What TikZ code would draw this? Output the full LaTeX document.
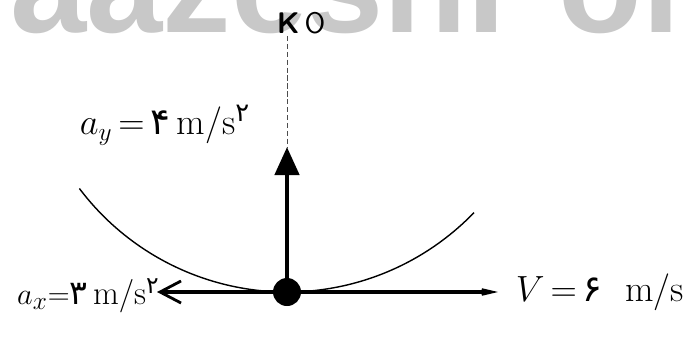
\documentclass[tikz,border=0pt]{standalone}
\usepackage{fontspec}
\usepackage{tikz}
\usetikzlibrary{arrows.meta, positioning}
\newfontfamily\fadig[Script=Arabic]{DejaVu Sans}
\newfontfamily\wmark{Liberation Sans}
\definecolor{wmgray}{RGB}{200,200,200}

\begin{document}
\begin{tikzpicture}[x=0.02cm, y=0.02cm,
    lbl/.style={inner sep=0pt, font=\fontsize{21}{25}\selectfont},
    ball/.style={circle, fill=black, inner sep=0pt, minimum size=0.56cm},
    path/.style={line width=0.8pt},
    vec/.style={line width=1.8pt},
    accvec/.style={line width=2.6pt, -{Triangle[length=0.56cm, width=0.48cm]}},
    guide/.style={line width=0.5pt, dash pattern=on 3pt off 1.5pt, draw=black!70}
  ]
    \useasboundingbox (0,0) rectangle (700,343);
    \clip (0,0) rectangle (700,343);
    \node[anchor=base west, inner sep=0pt, text=wmgray, font=\wmark\bfseries\fontsize{78}{78}\selectfont] (wm) at (10,311) {aazeshPor};

    \node[ball] (obj) at (287,51) {};
    \coordinate (axend) at (157,51);
    \coordinate (vend) at (498,51);
    \coordinate (ayend) at (287,196);
    \node[inner sep=1pt, font=\fontsize{17}{19}\selectfont\sffamily] (ctr) at (301,320) {\textbf{K}\,O};

    \draw[path] (obj.center) arc[start angle=270, end angle=217, radius=5.2cm];
    \draw[path] (obj.center) arc[start angle=270, end angle=316, radius=5.2cm];
    \draw[guide] (ctr.south -| obj) -- (ayend);
    \draw[vec, -{Straight Barb[length=0.42cm, width=0.44cm, line width=1.6pt]}] (obj) -- (axend);
    \draw[vec, -{Stealth[length=0.72cm, width=0.34cm, inset=0.42cm]}] (obj) -- (vend);
    \draw[accvec] (obj) -- (ayend);

    \node[lbl] (aylbl) at (165,218) {$a_y\,{=}\,${\fadig ۴}\,m/s\textsuperscript{\fadig ۲}};
    \node[lbl, anchor=east, font=\fontsize{19}{23}\selectfont] (axlbl) at (160,47) {$a_x{=}${\fadig ۳}\,m/s\textsuperscript{\fadig ۲}};
    \node[lbl, right=0.35cm of vend] (vlbl) {$V\,{=}\,${\fadig ۶}\ \ m/s};
  \end{tikzpicture}
\end{document}
